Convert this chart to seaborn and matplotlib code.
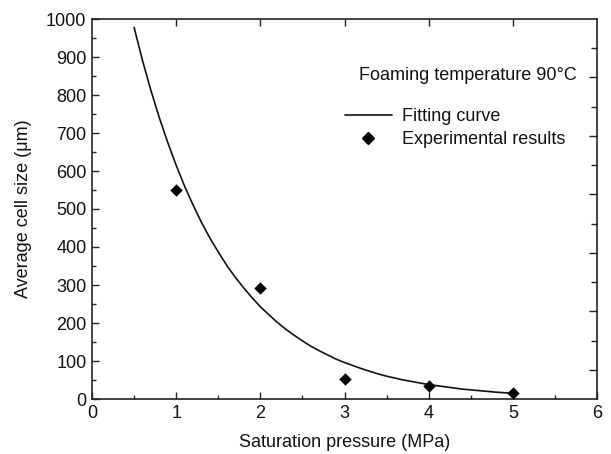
import matplotlib
matplotlib.use("Agg")
import matplotlib.pyplot as plt
import seaborn as sns
import pandas as pd
from matplotlib.lines import Line2D
from matplotlib.ticker import MultipleLocator, FixedLocator, NullFormatter

# ---- data ----
pressure_exp = [1, 2, 3, 4, 5]
cell_size_exp = [550, 293, 52, 33, 17]

pressure_fit = [0.5, 0.6, 0.7, 0.8, 0.9, 1.0, 1.1, 1.2, 1.3, 1.4, 1.5,
                1.6, 1.7, 1.8, 1.9, 2.0, 2.1, 2.2, 2.3, 2.4, 2.5,
                2.6, 2.7, 2.8, 2.9, 3.0, 3.1, 3.2, 3.3, 3.4, 3.5,
                3.6, 3.7, 3.8, 3.9, 4.0, 4.1, 4.2, 4.3, 4.4, 4.5,
                4.6, 4.7, 4.8, 4.9, 5.0]
cell_size_fit = [978, 891, 812, 740, 675, 615, 560, 511, 465, 424, 387,
                 352, 321, 293, 267, 243, 222, 202, 184, 168, 153,
                 139, 127, 116, 105, 96, 88, 80, 73, 66, 60,
                 55, 50, 46, 42, 38, 35, 32, 29, 26, 24,
                 22, 20, 18, 16.5, 15]

x_ticks = [0, 1, 2, 3, 4, 5, 6]
y_ticks = [0, 100, 200, 300, 400, 500, 600, 700, 800, 900, 1000]

sns.set_theme(style="white")
plt.rcParams['font.family'] = ['Liberation Sans', 'DejaVu Sans']

fig = plt.figure(figsize=(6.11, 4.54), dpi=100)
ax = fig.add_axes([92/611, 1 - 399/454, (597-92)/611, (399-19)/454])

df_fit = pd.DataFrame({"p": pressure_fit, "s": cell_size_fit})
df_exp = pd.DataFrame({"p": pressure_exp, "s": cell_size_exp})

sns.lineplot(data=df_fit, x="p", y="s", ax=ax, color="#111111", linewidth=1.2,
             sort=True, legend=False)
sns.scatterplot(data=df_exp, x="p", y="s", ax=ax, marker="D", s=40,
                color="black", edgecolor="black", linewidth=0, legend=False, zorder=3)

ax.set_xlim(0, 6)
ax.set_ylim(0, 1000)
ax.set_xticks(x_ticks)
ax.set_yticks(y_ticks)
ax.xaxis.set_minor_locator(MultipleLocator(0.5))
ax.yaxis.set_minor_locator(MultipleLocator(50))

fs = 13
ax.tick_params(axis="both", which="major", direction="in", length=5, width=1.0,
               labelsize=fs, pad=4, color="#222222", labelcolor="#111111",
               bottom=True, left=True, top=False, right=False)
ax.tick_params(axis="both", which="minor", direction="in", length=3, width=1.0,
               color="#222222", bottom=True, left=True, top=False, right=False)

ax.set_xlabel("Saturation pressure (MPa)", fontsize=fs, labelpad=9, color="#111111")
ax.set_ylabel("Average cell size (\u03bcm)", fontsize=fs, labelpad=10, color="#111111")

for sp in ax.spines.values():
    sp.set_visible(True)
    sp.set_color("#222222")
    sp.set_linewidth(1.2)

# top ticks
axt = ax.twiny()
axt.set_xlim(0, 6)
axt.xaxis.set_major_locator(FixedLocator([1, 2, 3, 4, 5]))
axt.xaxis.set_major_formatter(NullFormatter())
axt.tick_params(axis="x", which="major", direction="in", length=5, width=1.0,
                color="#222222", top=True, bottom=False, labeltop=False)

# right ticks (independent spacing as in reference)
axr = ax.twinx()
axr.set_ylim(0, 13)
axr.yaxis.set_major_locator(FixedLocator([1, 3, 5, 7, 9, 11]))
axr.yaxis.set_minor_locator(FixedLocator([2, 4, 6, 8, 10, 12]))
axr.yaxis.set_major_formatter(NullFormatter())
axr.tick_params(axis="y", which="major", direction="in", length=6, width=1.0,
                color="#222222", right=True, left=False, labelright=False)
axr.tick_params(axis="y", which="minor", direction="in", length=4, width=1.0,
                color="#222222", right=True, left=False)
for a in (axt, axr):
    for sp in a.spines.values():
        sp.set_visible(False)

ax.text((359-92)/505, (399-75)/380, "Foaming temperature 90\u00b0C",
        transform=ax.transAxes, fontsize=fs, va="center", ha="left", color="#111111")

handles = [Line2D([], [], color="#111111", linewidth=1.2),
           Line2D([], [], color="black", marker="D", markersize=6.2, linestyle="none")]
leg = ax.legend(handles, ["Fitting curve", "Experimental results"],
                loc="upper left", bbox_to_anchor=((345-92)/505, (399-108)/380),
                frameon=False, fontsize=fs, handlelength=2.6, handletextpad=0.55,
                borderpad=0, borderaxespad=0, labelspacing=0.33)
for t in leg.get_texts():
    t.set_color("#111111")

fig.savefig("out.png", dpi=100)
